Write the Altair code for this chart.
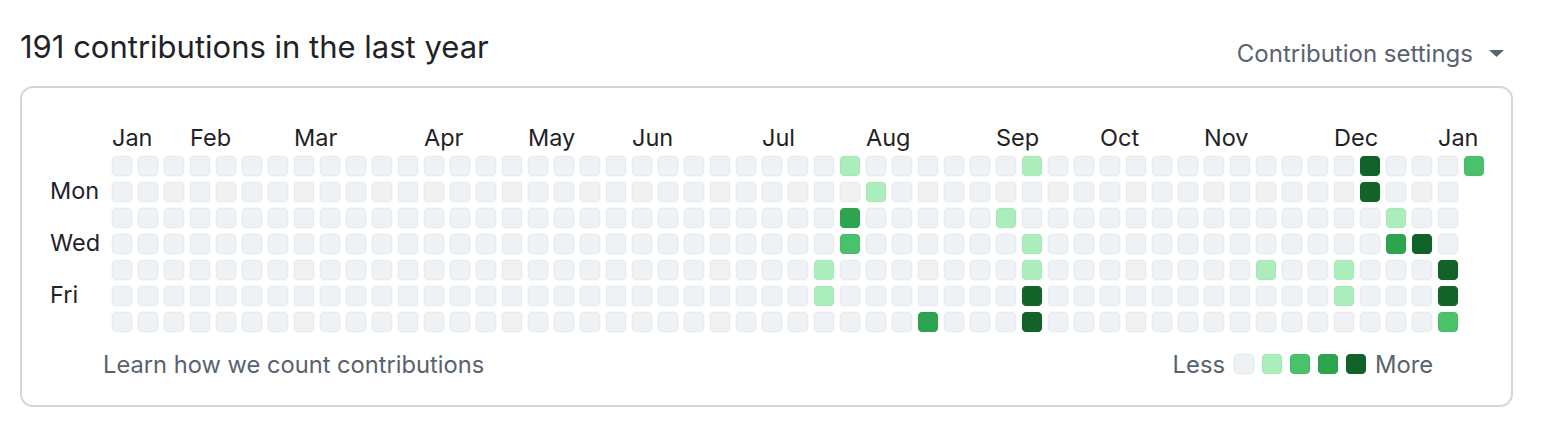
import altair as alt
import pandas as pd

# ---- data ----
n_weeks = 53
day_names = ["Sun", "Mon", "Tue", "Wed", "Thu", "Fri", "Sat"]
last_week_days = 1  # final week only has Sunday so far

# non-zero contribution levels: (week, day, level)
active_weeks = [27, 27, 28, 28, 28, 29, 31, 34, 35, 35, 35, 35, 35,
                44, 47, 47, 48, 48, 49, 49, 50, 51, 51, 51, 52]
active_days = [4, 5, 0, 2, 3, 1, 6, 2, 0, 3, 4, 5, 6,
               4, 4, 5, 0, 1, 2, 3, 3, 4, 5, 6, 0]
active_levels = [1, 1, 1, 3, 2, 1, 3, 1, 1, 1, 1, 4, 4,
                 1, 1, 1, 4, 4, 1, 3, 4, 4, 4, 2, 2]

month_names = ["Jan", "Feb", "Mar", "Apr", "May", "Jun", "Jul",
               "Aug", "Sep", "Oct", "Nov", "Dec", "Jan"]
month_weeks = [0, 3, 7, 12, 16, 20, 25, 29, 34, 38, 42, 47, 51]

weekday_labels = ["Mon", "Wed", "Fri"]
weekday_rows = [1, 3, 5]

legend_levels = [0, 1, 2, 3, 4]
level_colors = ["#eff2f5", "#aceebb", "#4ac26b", "#2da44e", "#116329"]

title_text = "191 contributions in the last year"
settings_text = "Contribution settings"
learn_text = "Learn how we count contributions"

# ---- tables ----
lvl = {(w, d): l for w, d, l in zip(active_weeks, active_days, active_levels)}
rows = []
for w in range(n_weeks):
    ndays = 7 if w < n_weeks - 1 else last_week_days
    for d in range(ndays):
        rows.append({"week": w, "day": d, "level": lvl.get((w, d), 0)})
cells = pd.DataFrame(rows)
months = pd.DataFrame({"month": month_names, "week": month_weeks})
wdays = pd.DataFrame({"label": weekday_labels, "day": weekday_rows})
legend_df = pd.DataFrame({"level": legend_levels})

# ---- layout ----
W, H = 1491, 319
STEP = 26.0
X0, Y0 = 101.0, 79.0  # pixel centre of week 0 / day 0 in plot area
HALF = 10.0 / STEP
FONT = "Inter"
DARK = "#1f2328"
GRAY = "#59636e"

xscale = alt.Scale(domain=[-X0 / STEP, (W - X0) / STEP], nice=False, zero=False)
yscale = alt.Scale(domain=[-Y0 / STEP, (H - Y0) / STEP], nice=False, zero=False, reverse=True)
color_scale = alt.Scale(domain=legend_levels, range=level_colors)

grid = alt.Chart(cells).transform_calculate(
    x1=f"datum.week - {HALF}", x2=f"datum.week + {HALF}",
    y1=f"datum.day - {HALF}", y2=f"datum.day + {HALF}",
).mark_rect(cornerRadius=4, stroke="#1f2328", strokeOpacity=0.06, strokeWidth=1).encode(
    x=alt.X("x1:Q", scale=xscale, axis=None),
    x2="x2:Q",
    y=alt.Y("y1:Q", scale=yscale, axis=None),
    y2="y2:Q",
    color=alt.Color("level:O", scale=color_scale, legend=None),
)

month_layer = alt.Chart(months).transform_calculate(
    xl=f"datum.week - {HALF}"
).mark_text(align="left", baseline="middle", font=FONT, fontSize=23.5, color=DARK).encode(
    x=alt.X("xl:Q", scale=xscale, axis=None),
    y=alt.value(52),
    text="month:N",
)

day_layer = alt.Chart(wdays).mark_text(
    align="left", baseline="middle", font=FONT, fontSize=23.5, color=DARK
).encode(
    x=alt.value(29),
    y=alt.Y("day:Q", scale=yscale, axis=None),
    text="label:N",
)

title_layer = alt.Chart(pd.DataFrame({"t": [title_text]})).mark_text(
    align="left", baseline="middle", font=FONT, fontSize=31, color=DARK
).encode(x=alt.value(-1), y=alt.value(-38), text="t:N")

settings_layer = alt.Chart(pd.DataFrame({"t": [settings_text]})).mark_text(
    align="right", baseline="middle", font=FONT, fontSize=24, color=GRAY
).encode(x=alt.value(1452), y=alt.value(-32), text="t:N")

caret_layer = alt.Chart(pd.DataFrame({"t": ["caret"]})).mark_point(
    shape="M-1,-0.47L1,-0.47L0,0.47Z", filled=True, size=225, color=GRAY, opacity=1
).encode(x=alt.value(1475.5), y=alt.value(-33.5))

learn_layer = alt.Chart(pd.DataFrame({"t": [learn_text]})).mark_text(
    align="left", baseline="middle", font=FONT, fontSize=23.7, color=GRAY
).encode(x=alt.value(82), y=alt.value(279), text="t:N")

less_layer = alt.Chart(pd.DataFrame({"t": ["Less"]})).mark_text(
    align="right", baseline="middle", font=FONT, fontSize=23.8, color=GRAY
).encode(x=alt.value(1204), y=alt.value(279), text="t:N")

more_layer = alt.Chart(pd.DataFrame({"t": ["More"]})).mark_text(
    align="left", baseline="middle", font=FONT, fontSize=23.8, color=GRAY
).encode(x=alt.value(1354), y=alt.value(279), text="t:N")

LHALF = 10.0 / 28.0
legend_layer = alt.Chart(legend_df).transform_calculate(
    x1=f"datum.level - {LHALF}", x2=f"datum.level + {LHALF}"
).mark_rect(cornerRadius=4, stroke="#1f2328", strokeOpacity=0.06, strokeWidth=1).encode(
    x=alt.X("x1:Q", scale=alt.Scale(domain=[0, 4], range=[1223, 1223 + 4 * 28], nice=False, zero=False), axis=None),
    x2="x2:Q",
    y=alt.value(267),
    y2=alt.value(287),
    color=alt.Color("level:O", scale=color_scale, legend=None),
)

main = alt.layer(grid, month_layer, day_layer).resolve_scale(x="shared", y="shared")

chart = alt.layer(
    main, legend_layer, title_layer, settings_layer, caret_layer,
    learn_layer, less_layer, more_layer,
).resolve_scale(x="independent", y="independent").properties(
    width=W, height=H,
    autosize=alt.AutoSizeParams(type="none"),
    padding={"left": 13, "top": 79, "right": 20, "bottom": 20},
    background="white",
).configure_view(
    stroke="#d0d7de", strokeWidth=2, cornerRadius=12
)

chart.save("out.html", embed_options={"renderer": "svg", "actions": False})
